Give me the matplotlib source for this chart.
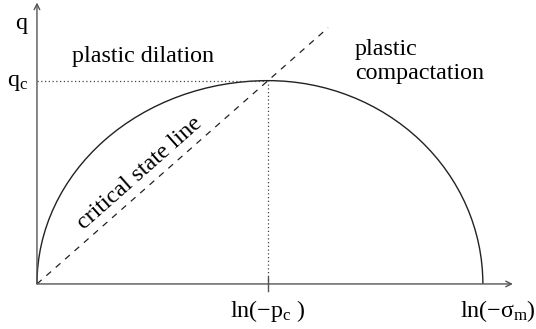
import matplotlib
matplotlib.use("Agg")
import matplotlib.pyplot as plt
from matplotlib.patches import Arc

plt.rcParams['font.family'] = 'Liberation Serif'
plt.rcParams['mathtext.fontset'] = 'custom'
plt.rcParams['mathtext.rm'] = 'Liberation Serif'
plt.rcParams['mathtext.it'] = 'Liberation Serif'

# diagram values (normalised so that ln(-p_c) = 1)
ln_pc = 1.0        # critical pressure position
ln_sigma_m = 1.93  # end of the yield surface
q_c = 0.88         # peak deviatoric stress
csl_slope = q_c / ln_pc

axis_labels = ['q', 'q$_\\mathrm{c}$', 'ln(−p$_\\mathrm{c}$ )', 'ln(−σ$_\\mathrm{m}$)']
region_labels = ['plastic dilation', 'plastic\ncompactation', 'critical state line']

fig = plt.figure(figsize=(5.36, 3.29), dpi=100)
ax = fig.add_axes([0, 0, 1, 1])
ax.set_xlim(-0.160, 2.160)
ax.set_ylim(-0.195, 1.229)
ax.axis('off')

axis_col = '#555555'
# axes with arrows
ax.annotate('', xy=(2.06, 0), xytext=(0, 0),
            arrowprops=dict(arrowstyle='->', color=axis_col, lw=1.0,
                            shrinkA=0, shrinkB=0))
ax.annotate('', xy=(0, 1.218), xytext=(0, 0),
            arrowprops=dict(arrowstyle='->', color=axis_col, lw=1.0,
                            shrinkA=0, shrinkB=0))

# tick at ln(-p_c)
ax.plot([ln_pc, ln_pc], [-0.03, 0.028], color=axis_col, lw=1.0)

# dotted guide lines
ax.plot([0, ln_pc], [q_c, q_c], ls=(0, (1, 2)), color='#444444', lw=0.9)
ax.plot([ln_pc, ln_pc], [0, q_c], ls=(0, (1, 2)), color='#444444', lw=0.9)

# critical state line
x_end = 1.26
ax.plot([0, x_end], [0, csl_slope * x_end], ls=(0, (5, 5)),
        color='#222222', lw=0.9)

# yield surface: two quarter ellipses meeting at the peak
ax.add_patch(Arc((ln_pc, 0), 2 * ln_pc, 2 * q_c, theta1=90, theta2=180,
                 color='#222222', lw=1.0))
ax.add_patch(Arc((ln_pc, 0), 2 * (ln_sigma_m - ln_pc), 2 * q_c,
                 theta1=0, theta2=90, color='#222222', lw=1.0))

fs = 17.3
ax.text(-0.068, 1.126, axis_labels[0], fontsize=fs, ha='center', va='center')
ax.text(-0.082, q_c - 0.01, axis_labels[1], fontsize=fs, ha='center', va='center')
ax.text(ln_pc, -0.118, axis_labels[2], fontsize=fs, ha='center', va='center')
ax.text(1.995, -0.118, axis_labels[3], fontsize=fs, ha='center', va='center')

ax.text(0.152, 0.983, region_labels[0], fontsize=fs, ha='left', va='center')
ax.text(1.377, 0.963, region_labels[1], fontsize=fs, ha='left', va='center',
        linespacing=1.15)
ax.text(0.446, 0.481, region_labels[2], fontsize=fs, ha='center', va='center',
        rotation=41.5, rotation_mode='anchor')

fig.savefig('out.png', dpi=100)
